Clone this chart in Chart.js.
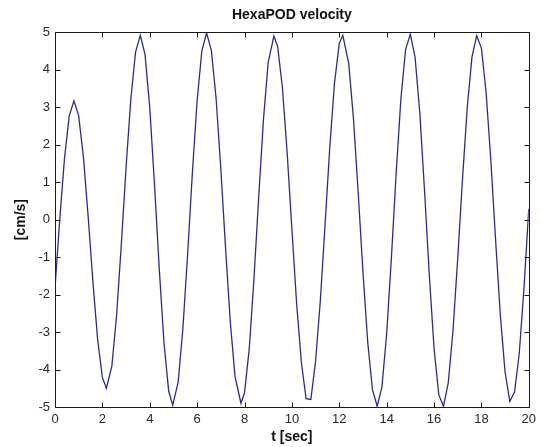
<!DOCTYPE html>
<html>
<head>
<meta charset="utf-8">
<script src="https://cdn.jsdelivr.net/npm/chart.js@4/dist/chart.umd.min.js"></script>
<style>
  html, body { margin: 0; padding: 0; background: #ffffff; }
  #wrap { width: 541px; height: 447px; }
</style>
</head>
<body>
<div id="wrap"><canvas id="c" width="541" height="447"></canvas></div>
<script>
// ---- Data ----
const chartTitle = 'HexaPOD velocity';
const xAxisLabel = 't [sec]';
const yAxisLabel = '[cm/s]';

const xTickValues = [0, 2, 4, 6, 8, 10, 12, 14, 16, 18, 20];
const yTickValues = [-5, -4, -3, -2, -1, 0, 1, 2, 3, 4, 5];

const times = [
  0, 0.2, 0.4, 0.6, 0.8, 1.0, 1.2, 1.4, 1.6, 1.8,
  2.0, 2.17, 2.4, 2.6, 2.8, 3.0, 3.2, 3.4, 3.6, 3.8,
  4.0, 4.2, 4.4, 4.6, 4.8, 4.97, 5.2, 5.4, 5.6, 5.8,
  6.0, 6.2, 6.4, 6.6, 6.8, 7.0, 7.2, 7.4, 7.6, 7.85,
  8.0, 8.2, 8.4, 8.6, 8.8, 9.0, 9.24, 9.4, 9.6, 9.8,
  10.0, 10.2, 10.4, 10.6, 10.8, 11.0, 11.2, 11.4, 11.6, 11.8,
  12.0, 12.15, 12.4, 12.6, 12.8, 13.0, 13.2, 13.4, 13.6, 13.8,
  14.0, 14.2, 14.4, 14.6, 14.8, 15.0, 15.2, 15.4, 15.6, 15.8,
  16.0, 16.2, 16.4, 16.6, 16.8, 17.0, 17.2, 17.4, 17.6, 17.8,
  18.0, 18.2, 18.4, 18.6, 18.8, 19.0, 19.2, 19.4, 19.6, 19.8,
  20.0
];

const velocity = [
  -1.82, 0.0, 1.63, 2.77, 3.17, 2.77, 1.67, 0.08, -1.66, -3.20,
  -4.21, -4.5, -3.91, -2.55, -0.66, 1.39, 3.21, 4.47, 4.92, 4.41,
  2.99, 0.94, -1.30, -3.28, -4.58, -4.95, -4.33, -2.90, -0.91, 1.26,
  3.18, 4.51, 4.98, 4.52, 3.24, 1.36, -0.76, -2.73, -4.19, -4.9,
  -4.62, -3.45, -1.57, 0.61, 2.67, 4.20, 4.9, 4.62, 3.52, 1.79,
  -0.25, -2.24, -3.81, -4.78, -4.8, -3.78, -2.17, -0.14, 1.93, 3.65,
  4.70, 4.92, 4.17, 2.69, 0.71, -1.40, -3.26, -4.53, -4.98, -4.47,
  -3.06, -1.03, 1.22, 3.21, 4.54, 4.95, 4.34, 2.85, 0.77, -1.47,
  -3.42, -4.67, -4.98, -4.36, -2.97, -1.04, 1.06, 2.97, 4.33, 4.91,
  4.58, 3.39, 1.56, -0.55, -2.56, -4.07, -4.85, -4.6, -3.56, -1.81,
  0.29
];

// ---- Chart ----
const points = times.map((t, i) => ({ x: t, y: velocity[i] }));

Chart.defaults.font.family = '"Liberation Sans", Arial, Helvetica, sans-serif';
Chart.defaults.color = '#222';

const matlabBox = {
  id: 'matlabBox',
  afterDatasetsDraw(chart) {
    const { ctx, chartArea: a, scales: { x, y } } = chart;
    const L = Math.round(a.left) + 0.5, R = Math.round(a.right) + 0.5;
    const T = Math.round(a.top) + 0.5, B = Math.round(a.bottom) + 0.5;
    const len = 5;
    ctx.save();
    ctx.strokeStyle = '#1a1a1a';
    ctx.lineWidth = 1;
    ctx.beginPath();
    x.ticks.forEach(t => {
      const px = Math.round(x.getPixelForValue(t.value)) + 0.5;
      ctx.moveTo(px, B); ctx.lineTo(px, B - len);
      ctx.moveTo(px, T); ctx.lineTo(px, T + len);
    });
    y.ticks.forEach(t => {
      const py = Math.round(y.getPixelForValue(t.value)) + 0.5;
      ctx.moveTo(L, py); ctx.lineTo(L + len, py);
      ctx.moveTo(R, py); ctx.lineTo(R - len, py);
    });
    ctx.stroke();
    ctx.strokeRect(L, T, R - L, B - T);
    ctx.restore();
  }
};

new Chart(document.getElementById('c'), {
  type: 'line',
  data: {
    datasets: [{
      data: points,
      borderColor: '#2b2b8f',
      borderWidth: 1.3,
      pointRadius: 0,
      tension: 0,
      fill: false
    }]
  },
  options: {
    responsive: false,
    animation: false,
    devicePixelRatio: 1,
    layout: { padding: { top: 0, right: 9.5, bottom: 0, left: 0 } },
    plugins: {
      legend: { display: false },
      tooltip: { enabled: false },
      title: {
        display: true,
        fullSize: false,
        text: chartTitle,
        color: '#111',
        font: { size: 14, weight: 'bold' },
        padding: { top: 7, bottom: 8.5 }
      }
    },
    scales: {
      x: {
        type: 'linear',
        min: 0, max: 20,
        afterBuildTicks: s => { s.ticks = xTickValues.map(v => ({ value: v })); },
        afterFit: s => { s.height = 40; },
        grid: { display: false, drawTicks: false },
        border: { display: false },
        ticks: { padding: 5, font: { size: 13 }, color: '#2a2a2a', maxRotation: 0 },
        title: {
          display: true, text: xAxisLabel, color: '#111',
          font: { size: 14, weight: 'bold' },
          padding: { top: 0, bottom: 1 }
        }
      },
      y: {
        type: 'linear',
        min: -5, max: 5,
        afterBuildTicks: s => { s.ticks = yTickValues.map(v => ({ value: v })); },
        afterFit: s => { s.width = 55; },
        grid: { display: false, drawTicks: false },
        border: { display: false },
        ticks: { padding: 5, font: { size: 13 }, color: '#2a2a2a' },
        title: {
          display: true, text: yAxisLabel, color: '#111',
          font: { size: 14, weight: 'bold' },
          padding: { top: 12.6, bottom: 0 }
        }
      }
    }
  },
  plugins: [matlabBox]
});
</script>
</body>
</html>
